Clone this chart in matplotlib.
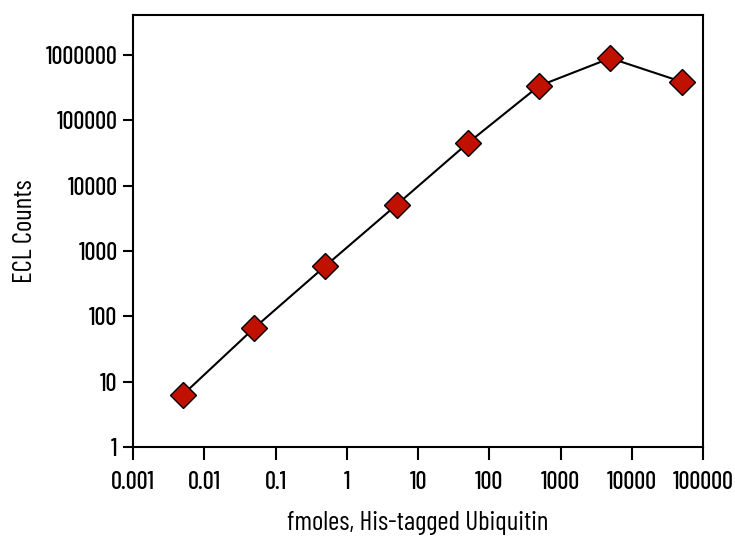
import matplotlib
matplotlib.use("Agg")
import matplotlib.pyplot as plt
from matplotlib.ticker import FixedLocator, FixedFormatter, NullLocator

fmoles = [0.005, 0.05, 0.5, 5, 50, 500, 5000, 50000]
ecl_counts = [6.3, 66, 590, 5100, 45000, 338000, 900000, 392000]
x_ticks = [0.001, 0.01, 0.1, 1, 10, 100, 1000, 10000, 100000]
x_labels = ["0.001", "0.01", "0.1", "1", "10", "100", "1000", "10000", "100000"]
y_ticks = [1, 10, 100, 1000, 10000, 100000, 1000000]
y_labels = ["1", "10", "100", "1000", "10000", "100000", "1000000"]

plt.rcParams["font.family"] = ["Barlow Condensed", "DejaVu Sans"]
plt.rcParams["font.weight"] = "medium"

fig = plt.figure(figsize=(7.35, 5.39), dpi=100)
ax = fig.add_axes([133/735, 1-447/539, (703-133)/735, (447-15)/539])
ax.plot(fmoles, ecl_counts, color="black", lw=1.5, marker="D", ms=13.7,
        mfc="#C01000", mec="black", mew=1.0, zorder=3)
ax.set_xscale("log")
ax.set_yscale("log")
ax.set_xlim(0.001, 100000)
ax.set_ylim(1, 10**6.615)
ax.xaxis.set_major_locator(FixedLocator(x_ticks))
ax.xaxis.set_major_formatter(FixedFormatter(x_labels))
ax.yaxis.set_major_locator(FixedLocator(y_ticks))
ax.yaxis.set_major_formatter(FixedFormatter(y_labels))
ax.xaxis.set_minor_locator(NullLocator())
ax.yaxis.set_minor_locator(NullLocator())
ax.tick_params(axis="x", direction="out", length=9.5, width=1.5, labelsize=17.5, pad=8)
ax.tick_params(axis="y", direction="out", length=7.2, width=1.5, labelsize=17.5, pad=4)
for s in ax.spines.values():
    s.set_linewidth(1.5)
ax.set_xlabel("fmoles, His-tagged Ubiquitin", fontsize=19.5, labelpad=12)
ax.set_ylabel("ECL Counts", fontsize=19.5, labelpad=6)
fig.savefig("out.png", dpi=100)
